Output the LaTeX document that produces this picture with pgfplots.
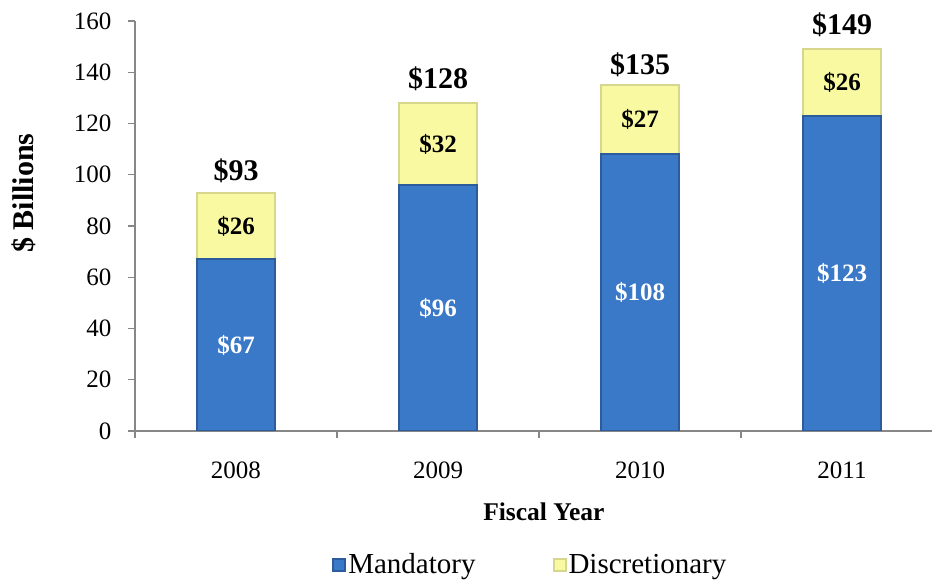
\documentclass[border=0pt]{standalone}
\usepackage{fontspec}
\setmainfont{Liberation Serif}
\usepackage{pgfplots}
\pgfplotsset{compat=1.18}
\definecolor{bluemid}{HTML}{3A78C8}
\definecolor{blueedge}{HTML}{2C5C9C}
\definecolor{yelmid}{HTML}{F9F9A2}
\definecolor{yeledge}{HTML}{D6D68C}
\definecolor{axgray}{HTML}{878787}
\begin{document}
\begin{tikzpicture}
\begin{axis}[
  scale only axis,
  width=797pt, height=410pt,
  xmin=-0.5, xmax=3.4455,
  ymin=0, ymax=160,
  ybar stacked, bar width=78pt,
  axis x line=bottom, axis y line=left,
  axis line style={axgray, line width=1.2pt, -},
  tick align=outside,
  major tick length=7pt,
  tick style={axgray, line width=1.2pt},
  ytick={0,20,...,160},
  xtick={-0.5,0.5,1.5,2.5},
  xticklabels={},
  extra x ticks={0,1,2,3},
  extra x tick labels={2008,2009,2010,2011},
  extra x tick style={major tick length=0pt},
  /pgf/number format/assume math mode=true,
  ticklabel style={font=\fontsize{25}{30}\selectfont},
  xticklabel style={yshift=-27pt},
  yticklabel style={xshift=-13pt},
  ylabel={\textbf{\$ Billions}},
  xlabel={\textbf{Fiscal Year}},
  every axis y label/.style={at={(axis description cs:-0.139,0.58)}, rotate=90, anchor=center, font=\fontsize{30}{36}\selectfont},
  every axis x label/.style={at={(axis description cs:0.513,-0.198)}, anchor=center, font=\fontsize{25.5}{30}\selectfont},
  legend columns=2,
  legend style={at={(axis description cs:0.496,-0.325)}, anchor=center, draw=none, fill=none,
    font=\fontsize{29}{34}\selectfont, /tikz/every even column/.append style={column sep=75pt}},
  legend image code/.code={\fill[#1] (0pt,-7pt) rectangle (12pt,5pt);},
]
\addplot[draw=blueedge, line width=2pt, fill=bluemid]
  coordinates {(0,67) (1,96) (2,108) (3,123)};
\addplot[draw=yeledge, line width=2pt, fill=yelmid]
  coordinates {(0,26) (1,32) (2,27) (3,26)};
\legend{Mandatory, Discretionary}
\end{axis}
\begin{axis}[
  scale only axis,
  width=797pt, height=410pt,
  xmin=-0.5, xmax=3.4455,
  ymin=0, ymax=160,
  hide axis, clip=false,
]
\begin{scope}[font=\bfseries\fontsize{25}{30}\selectfont]
\node[white] at (axis cs:0,33.5) {\$67};
\node[white] at (axis cs:1,48) {\$96};
\node[white] at (axis cs:2,54) {\$108};
\node[white] at (axis cs:3,61.5) {\$123};
\node at (axis cs:0,80) {\$26};
\node at (axis cs:1,112) {\$32};
\node at (axis cs:2,121.5) {\$27};
\node at (axis cs:3,136) {\$26};
\end{scope}
\begin{scope}[font=\bfseries\fontsize{30}{36}\selectfont]
\node[yshift=22pt] at (axis cs:0,93) {\$93};
\node[yshift=24pt] at (axis cs:1,128) {\$128};
\node[yshift=20pt] at (axis cs:2,135) {\$135};
\node[yshift=24pt] at (axis cs:3,149) {\$149};
\end{scope}
\end{axis}
\pgfresetboundingbox
\path[use as bounding box] (-135pt,-149pt) rectangle (797pt,431pt);
\end{tikzpicture}
\end{document}
